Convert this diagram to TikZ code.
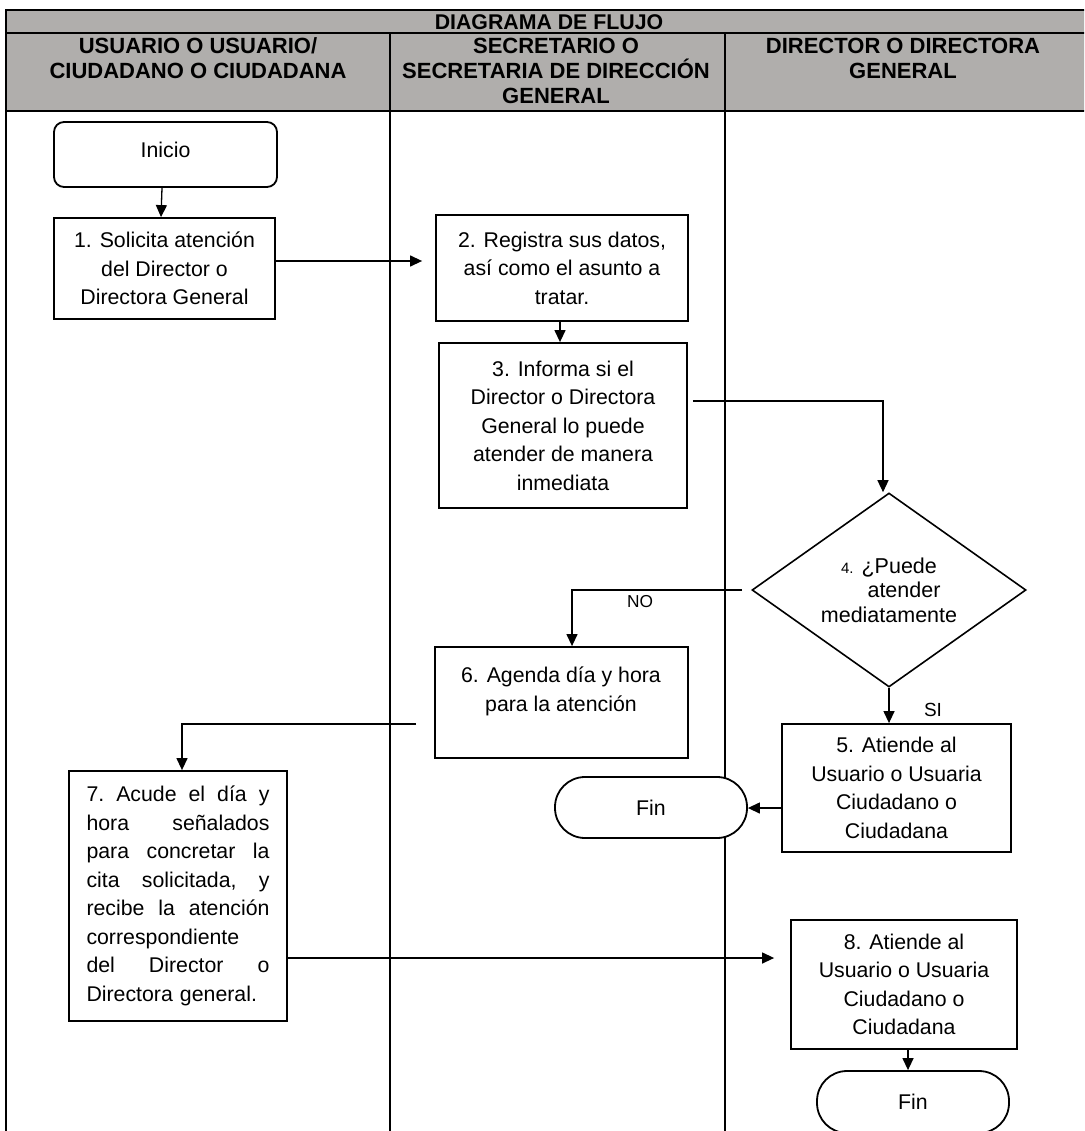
\documentclass[tikz,border=0pt]{standalone}
\usepackage{fontspec}
\setmainfont{Liberation Sans}
\usetikzlibrary{shapes.geometric,arrows.meta,calc}
\definecolor{hdrgray}{RGB}{176,174,172}
\newcommand{\jline}[1]{\leavevmode\hbox to 183pt{#1}}
\begin{document}
\begin{tikzpicture}[x=1pt,y=-1pt,
 box/.style={draw=black, line width=1.8pt, fill=white, inner sep=0pt, align=center, font=\fontsize{21.3}{28.5}\selectfont},
 rbox/.style={box, rounded corners=10pt},
 term/.style={box, rounded corners=30pt},
 dec/.style={diamond, aspect=1.41, draw=black, line width=1.6pt, fill=white, inner sep=0pt, align=center, font=\fontsize{21.5}{24.5}\selectfont},
 arr/.style={draw=black, line width=1.3pt, -{Triangle[length=12pt,width=11pt]}},
 lbl/.style={inner sep=0pt, font=\fontsize{17.3}{20}\selectfont},
 sil/.style={inner sep=0pt, font=\fontsize{19}{22}\selectfont},
 hdr/.style={inner sep=0pt, align=center, font=\bfseries\fontsize{22}{25}\selectfont},
 gridline/.style={line width=2.2pt, line cap=rect}
]
\useasboundingbox (0,0) rectangle (1084,1131);
\clip (0,0) rectangle (1084,1131);
\fill[white] (0,0) rectangle (1084,1131);
% table
\fill[hdrgray] (6,10) rectangle (1095,111);
\draw[gridline] (6,10) -- (1095,10);
\draw[gridline] (6,33) -- (1095,33);
\draw[gridline] (6,111) -- (1095,111);
\draw[gridline] (6,10) -- (6,1140);
\draw[gridline] (390,33) -- (390,1140);
\draw[gridline] (725,33) -- (725,1140);
% headers
\node[hdr, font=\bfseries\fontsize{21.3}{25}\selectfont] (title) at (549,22) {DIAGRAMA DE FLUJO};
\node[hdr] (h1) at (198,58.5) {USUARIO O USUARIO/\\CIUDADANO O CIUDADANA};
\node[hdr] (h2) at (556,71) {SECRETARIO O\\SECRETARIA DE DIRECCIÓN\\GENERAL};
\node[hdr] (h3) at (903,58.5) {DIRECTOR O DIRECTORA\\GENERAL};
% nodes
\node[rbox, minimum width=223pt, minimum height=65pt] (ini) at (165.5,154.5) {\raisebox{9pt}{Inicio}};
\node[box, minimum width=221pt, minimum height=101pt] (b1) at (164.5,268.5) {1. Solicita atención\\del Director o\\Directora General};
\node[box, minimum width=252pt, minimum height=106pt] (b2) at (562,268) {2. Registra sus datos,\\así como el asunto a\\tratar.};
\node[box, minimum width=248pt, minimum height=165pt] (b3) at (563,425.5) {3. Informa si el\\Director o Directora\\General lo puede\\atender de manera\\inmediata};
\node[dec, minimum width=274pt, minimum height=194pt] (d4) at (889,590) {{\fontsize{15}{24.5}\selectfont 4.} ¿Puede\\\hspace*{30pt}atender\\mediatamente};
\node[box, minimum width=229pt, minimum height=128pt] (b5) at (896.5,788) {5. Atiende al\\Usuario o Usuaria\\Ciudadano o\\Ciudadana};
\node[box, minimum width=253pt, minimum height=111pt] (b6) at (561.5,702.5) {};
\node[inner sep=0pt, align=center, font=\fontsize{21.3}{28.5}\selectfont] (b6t) at (561,691.5) {6. Agenda día y hora\\para la atención};
\node[term, minimum width=192pt, minimum height=61pt] (fin1) at (651,807.5) {Fin};
\node[box, align=left, text width=183pt, minimum width=218pt, minimum height=250pt] (b7) at (178,896) {%
\jline{7.\hfill Acude\hfill el\hfill día\hfill y}\\
\jline{hora\hfill señalados}\\
\jline{para\hfill concretar\hfill la}\\
\jline{cita\hfill solicitada,\hfill y}\\
\jline{recibe\hfill la\hfill atención}\\
correspondiente\\
\jline{del\hfill Director\hfill o}\\
Directora general.};
\node[box, minimum width=226pt, minimum height=129pt] (b8) at (904,984.5) {8. Atiende al\\Usuario o Usuaria\\Ciudadano o\\Ciudadana};
\node[term, minimum width=192pt, minimum height=62pt] (fin2) at (913,1102) {Fin};
% connectors
\draw[arr] ([xshift=-3.5pt]ini.south) -- ([xshift=-3.5pt]b1.north);
\coordinate (c1) at ([yshift=7.5pt]b1.east);
\draw[arr, shorten >=13pt] (c1) -- (c1 -| b2.west);
\coordinate (c2) at ([xshift=-2pt]b2.south);
\draw[arr] (c2) -- (c2 |- b3.north);
\coordinate (c3) at ([yshift=24.5pt]b3.east);
\draw[arr, shorten <=5pt] (c3) -| ([xshift=-6pt]d4.north);
\draw[arr, shorten <=9pt] (d4.west) -| ([xshift=10.5pt]b6.north) node[lbl, pos=0.31, yshift=-12pt] (no) {NO};
\draw[arr] (d4.south) -- (d4.south |- b5.north) node[sil, pos=0.5, xshift=44pt, yshift=-4.5pt] (si) {SI};
\coordinate (c5) at ([yshift=-20pt]b5.west);
\draw[arr] (c5) -- (c5 -| fin1.east);
\coordinate (c6) at ([yshift=-21.5pt]b6.west);
\draw[arr, shorten <=18pt] (c6) -| ([xshift=4pt]b7.north);
\coordinate (c7) at ([yshift=-62pt]b7.east);
\draw[arr, shorten >=16pt] (c7) -- (c7 -| b8.west);
\coordinate (c8) at ([xshift=4pt]b8.south);
\draw[arr] (c8) -- (c8 |- fin2.north);
\end{tikzpicture}
\end{document}
